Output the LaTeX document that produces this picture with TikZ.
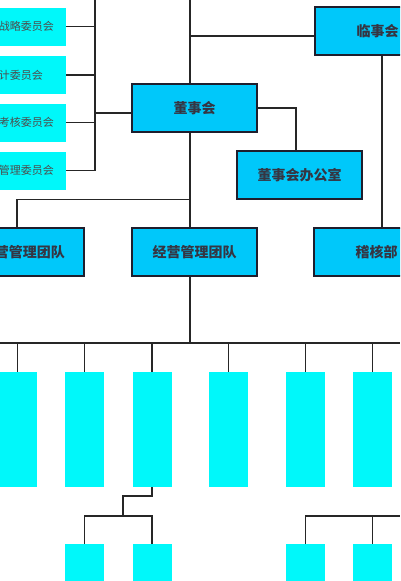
\documentclass[tikz,border=0pt]{standalone}
\usepackage{fontspec}
\setmainfont{Noto Sans CJK SC}
\usetikzlibrary{positioning}
\definecolor{deptblue}{RGB}{0,200,250}
\definecolor{unitcyan}{RGB}{0,248,250}
\definecolor{inkgray}{RGB}{30,30,45}
\begin{document}
\begin{tikzpicture}[x=1pt,y=-1pt,
    dept/.style={draw=inkgray,line width=1.2pt,fill=deptblue,minimum width=125pt,
        minimum height=48pt,inner sep=0pt,font=\fontsize{14}{16}\selectfont\bfseries,text=inkgray!90},
    committee/.style={fill=unitcyan,anchor=east,minimum height=38pt,text width=80pt,
        align=right,inner xsep=12pt,font=\fontsize{11}{12}\selectfont,text=black!70},
    unit/.style={fill=unitcyan,minimum width=39pt,minimum height=115pt,inner sep=0pt},
    link/.style={draw=black!85,line width=1.2pt}]
\useasboundingbox (0,0) rectangle (400,581);
\clip (0,0) rectangle (400,581);
\node[dept] (board) at (194.5,108) {董事会};
\node[dept] (supervisors) at (377.5,31) {临事会};
\node[dept] (office) at (299.5,175) {董事会办公室};
\node[dept,text width=87pt,align=right] (team) at (21.5,252) {营管理团队};
\node[dept] (management) at (194.5,252) {经营管理团队};
\node[dept] (audit) at (376.5,252) {稽核部};
\node[committee] (strategy) at (66,26.5) {战略委员会};
\node[committee,inner xsep=23pt] (accounts) at (66,75) {计委员会};
\node[committee] (assessment) at (66,122.5) {与考核委员会};
\node[committee] (oversight) at (66,170.5) {管理委员会};
\foreach \cx/\nm in {17.5/u1,84.5/u2,152/u3,228.5/u4,305.5/u5,372.5/u6}
    \node[unit] (\nm) at (\cx,429.5) {};
\foreach \cx/\nm in {84.5/s1,152/s2,305.5/s3,372.5/s4}
    \node[unit] (\nm) at (\cx,601.5) {};
\coordinate (trunk) at (190,0);
\coordinate (spine) at (95,0);
\coordinate (bus) at (0,343);
\coordinate (busend) at (400,343);
\coordinate (boardleft) at ([yshift=-5pt]board.west);
\coordinate (svleft) at ([yshift=-5pt]supervisors.west);
\coordinate (auditline) at ([xshift=4.5pt]supervisors.south);
\coordinate (subjog) at (123,496);
\coordinate (subbus) at (123,516);
\coordinate (rightbus) at (400,516);
% board and committees
\draw[link] (spine) -- (spine |- oversight.east);
\foreach \c in {strategy,accounts,assessment,oversight}
    \draw[link] (\c.east) -- (spine |- \c.east);
\draw[link] (boardleft) -- (spine |- boardleft);
\draw[link] (trunk) -- (trunk |- board.north);
\draw[link] (svleft) -- (trunk |- svleft);
\draw[link] (board.east) -| ([xshift=-3.5pt]office.north);
\draw[link] (trunk |- board.south) -- (trunk |- management.north);
\draw[link] (trunk |- office.south) -| ([xshift=-4.5pt]team.north);
\draw[link] (auditline) -- (auditline |- audit.north);
% departments
\draw[link] (trunk |- management.south) -- (trunk |- bus);
\draw[link] (bus) -- (busend);
\foreach \u in {u1,u2,u3,u4,u5,u6}
    \draw[link] (\u.north) -- (\u.north |- bus);
\draw[link] (u3.south) |- (subjog) -- (subbus);
\draw[link] (s1.north) |- (subbus) -| (s2.north);
\draw[link] (s3.north) |- (rightbus);
\draw[link] (s4.north) -- (s4.north |- rightbus);
\end{tikzpicture}
\end{document}
